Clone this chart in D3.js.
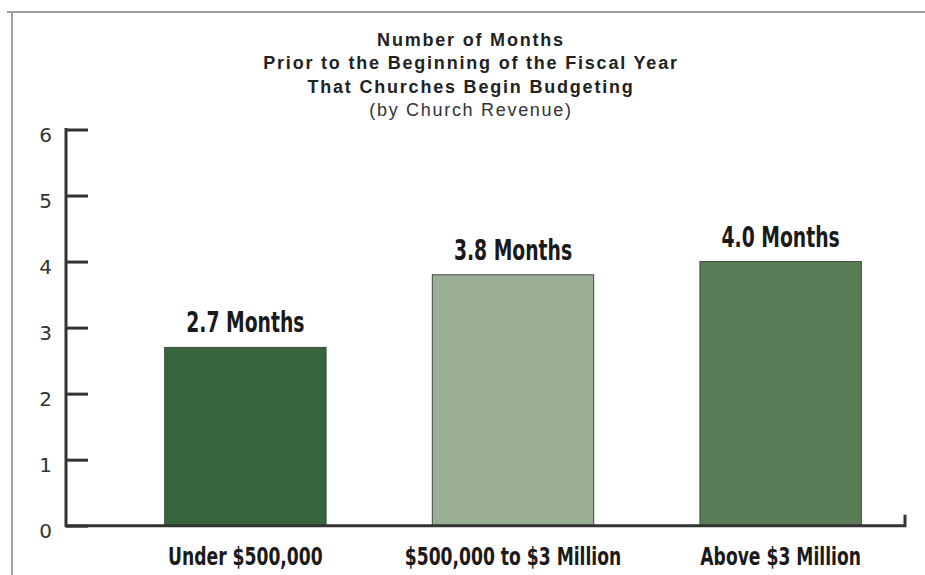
<!DOCTYPE html>
<html>
<head>
<meta charset="utf-8">
<script src="https://cdn.jsdelivr.net/npm/d3@7"></script>
<style>
  html, body { margin: 0; padding: 0; background: #fff; }
  svg { display: block; }
</style>
</head>
<body>
<svg id="chart" width="925" height="575"></svg>
<script>
// ---- data ----
const categories = ["Under $500,000", "$500,000 to $3 Million", "Above $3 Million"];
const values = [2.7, 3.8, 4.0];
const valueLabels = ["2.7 Months", "3.8 Months", "4.0 Months"];
const barColors = ["#35643d", "#9aae96", "#5a7d57"];
const yTicks = [0, 1, 2, 3, 4, 5, 6];
const titleLines = ["Number of Months", "Prior to the Beginning of the Fiscal Year", "That Churches Begin Budgeting"];
const subtitle = "(by Church Revenue)";

// ---- layout ----
const svg = d3.select("#chart");
const condensed = "'DejaVu Sans Condensed', 'DejaVu Sans', sans-serif";
const titleFont = "'Liberation Sans', Arial, sans-serif";

const axisX = 66, axisEndX = 905;
const y = d3.scaleLinear().domain([0, 6]).range([525.7, 129.5]);
const x = d3.scaleBand().domain(categories).range([67, 959]).paddingInner(0.397).paddingOuter(0.365);

// frame
svg.append("path")
  .attr("d", `M7,12 H925 M12,12 V575`)
  .attr("stroke", "#a0a0a0").attr("stroke-width", 2).attr("fill", "none");

// title
const tcx = 471;
const t = svg.append("text").attr("text-anchor", "middle").attr("fill", "#222")
  .style("font-family", titleFont).style("letter-spacing", "1.8px");
titleLines.forEach((line, i) => {
  t.append("tspan").attr("x", tcx).attr("y", 46 + i * 23.3)
    .style("font-weight", "bold").style("font-size", "18px").text(line);
});
svg.append("text").attr("x", tcx).attr("y", 116).attr("text-anchor", "middle")
  .attr("fill", "#333").style("font-family", titleFont).style("font-size", "18px")
  .style("letter-spacing", "1.7px").text(subtitle);

// bars
svg.append("g").selectAll("rect").data(values).join("rect")
  .attr("x", (d, i) => x(categories[i]))
  .attr("y", d => y(d))
  .attr("width", x.bandwidth())
  .attr("height", d => y(0) - y(d))
  .attr("fill", (d, i) => barColors[i])
  .attr("stroke", "#3d4a3c").attr("stroke-width", 1);

// value labels (condensed by horizontal scaling)
svg.append("g").selectAll("text").data(values).join("text")
  .attr("transform", (d, i) => `translate(${x(categories[i]) + x.bandwidth() / 2},${y(d) - 15}) scale(0.72,1)`)
  .attr("text-anchor", "middle")
  .attr("fill", "#1a1a1a")
  .style("font-family", condensed).style("font-weight", "bold").style("font-size", "29px")
  .text((d, i) => valueLabels[i]);

// y axis
const yAxis = d3.axisRight(y).tickValues(yTicks).tickSize(22).tickFormat("");
const yg = svg.append("g").attr("transform", `translate(${axisX},0)`).call(yAxis);
yg.select(".domain").remove();
yg.selectAll(".tick line").attr("stroke", "#333").attr("stroke-width", 3);
svg.append("line").attr("x1", axisX).attr("x2", axisX).attr("y1", y(6) - 1.5).attr("y2", y(0) + 1.5)
  .attr("stroke", "#333").attr("stroke-width", 3);

// y tick labels
svg.append("g").selectAll("text").data(yTicks).join("text")
  .attr("x", 52).attr("y", d => y(d) + 12.5)
  .attr("text-anchor", "end")
  .attr("fill", "#333")
  .style("font-family", "'DejaVu Sans', sans-serif").style("font-size", "20px")
  .text(d => d);

// x axis baseline with right end tick
svg.append("path")
  .attr("d", `M${axisX},${y(0)} H${axisEndX} V${y(0) - 11}`)
  .attr("stroke", "#333").attr("stroke-width", 3).attr("fill", "none");

// category labels
const xg = svg.append("g").attr("transform", `translate(0,${y(0)})`)
  .call(d3.axisBottom(x).tickSize(0).tickPadding(0));
xg.select(".domain").remove();
xg.selectAll(".tick text")
  .attr("y", 0).attr("dy", 0)
  .attr("transform", "translate(0,39) scale(0.795,1)")
  .attr("fill", "#1a1a1a")
  .style("font-family", condensed).style("font-weight", "bold").style("font-size", "24px");
</script>
</body>
</html>
